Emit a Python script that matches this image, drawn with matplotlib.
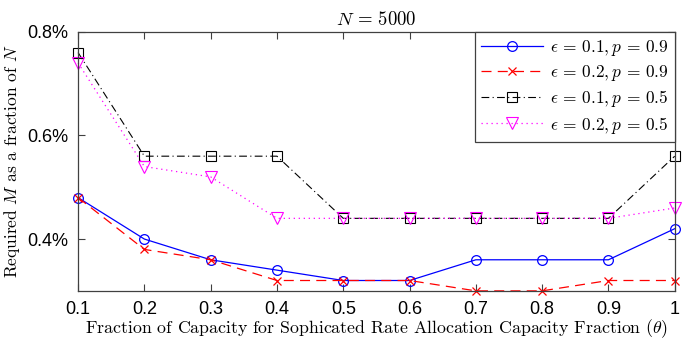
import matplotlib
matplotlib.use("Agg")
import matplotlib.pyplot as plt
from matplotlib.ticker import FuncFormatter

plt.rcParams['mathtext.fontset'] = 'cm'
plt.rcParams['axes.formatter.use_mathtext'] = True

theta = [0.1, 0.2, 0.3, 0.4, 0.5, 0.6, 0.7, 0.8, 0.9, 1.0]
eps01_p09 = [0.48, 0.40, 0.36, 0.34, 0.32, 0.32, 0.36, 0.36, 0.36, 0.42]
eps02_p09 = [0.48, 0.38, 0.36, 0.32, 0.32, 0.32, 0.30, 0.30, 0.32, 0.32]
eps01_p05 = [0.76, 0.56, 0.56, 0.56, 0.44, 0.44, 0.44, 0.44, 0.44, 0.56]
eps02_p05 = [0.74, 0.54, 0.52, 0.44, 0.44, 0.44, 0.44, 0.44, 0.44, 0.46]

fig = plt.figure(figsize=(6.85, 3.39), dpi=100)
ax = fig.add_axes([0.114, 0.142, 0.871, 0.764])

ms = 7
ax.plot(theta, eps01_p09, color="blue", linestyle="-", lw=0.9, marker="o",
        ms=ms, mfc="none", mew=0.9, label=r"$\epsilon\,=\,0.1, p\,=\,0.9$", clip_on=False)
ax.plot(theta, eps02_p09, color="red", linestyle=(0, (8, 5)), lw=0.9, marker="x",
        ms=6, mew=0.9, label=r"$\epsilon\,=\,0.2, p\,=\,0.9$", clip_on=False)
ax.plot(theta, eps01_p05, color="black", linestyle=(0, (7, 3, 1, 3)), lw=0.8, marker="s",
        ms=6.5, mfc="none", mew=0.8, label=r"$\epsilon\,=\,0.1, p\,=\,0.5$", clip_on=False)
ax.plot(theta, eps02_p05, color="magenta", linestyle=(0, (1, 3)), lw=0.9, marker="v",
        ms=8, mfc="none", mew=0.8, label=r"$\epsilon\,=\,0.2, p\,=\,0.5$", clip_on=False)

ax.set_xlim(0.1, 1.0)
ax.set_ylim(0.3, 0.8)
ax.set_xticks(theta)
ax.set_xticklabels(["0.1", "0.2", "0.3", "0.4", "0.5", "0.6", "0.7", "0.8", "0.9", "1"])
ax.set_yticks([0.4, 0.6, 0.8])
ax.yaxis.set_major_formatter(FuncFormatter(lambda v, p: "%.1f%%" % v))
for lab in ax.get_xticklabels() + ax.get_yticklabels():
    lab.set_fontname("Liberation Sans")
    lab.set_fontsize(13)
ax.tick_params(direction="in", top=True, right=True, length=5, width=0.8,
               color="#404040", pad=7)
for s in ax.spines.values():
    s.set_color("#404040")
    s.set_linewidth(0.9)

ax.set_xlabel(r"Fraction of Capacity for Sophicated Rate Allocation Capacity Fraction ($\theta$)",
              fontname="cmr10", fontsize=12.8, labelpad=0)
ax.set_ylabel(r"Required $M$ as a fraction of $N$", fontname="cmr10", fontsize=12.5, labelpad=4)
ax.set_title(r"$N\,=\,5000$", fontsize=13.5, pad=5)

leg = ax.legend(loc="upper right", fontsize=12.5, frameon=True, fancybox=False,
                edgecolor="#404040", framealpha=1, borderaxespad=0, handlelength=3.6,
                handletextpad=0.4, labelspacing=0.3, borderpad=0.35)
leg.get_frame().set_linewidth(0.9)

fig.savefig("out.png", dpi=100)
